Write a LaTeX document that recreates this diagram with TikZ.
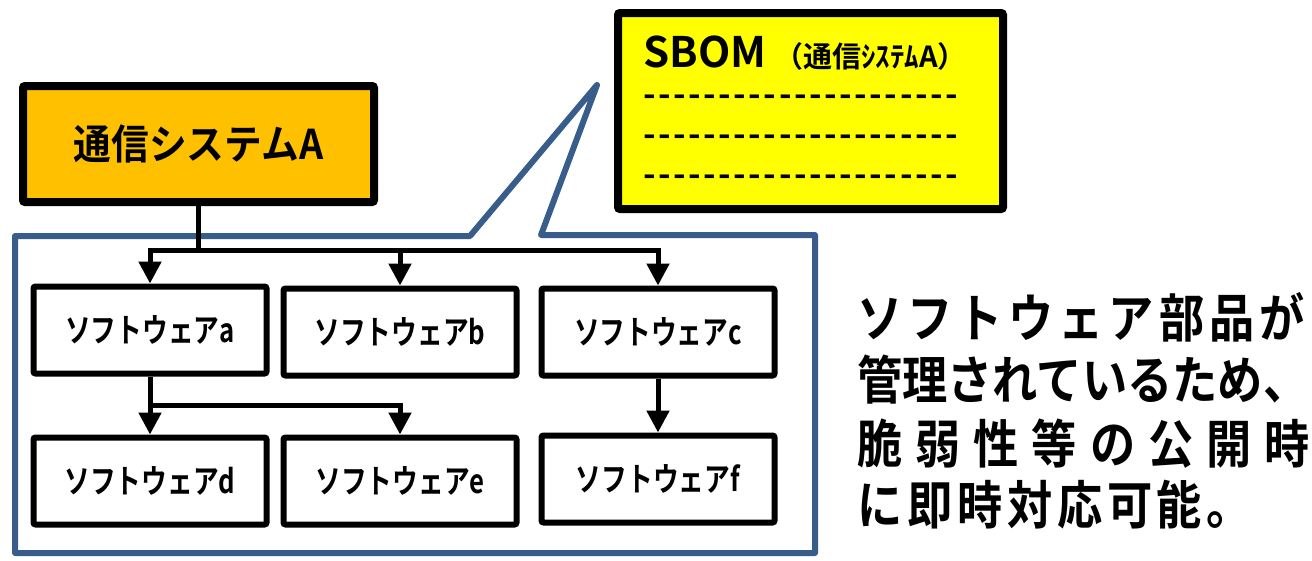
\documentclass[tikz,border=0pt]{standalone}
\usepackage{fontspec}
\newfontfamily\jpb{Noto Sans CJK JP Bold}
\newfontfamily\jpnarrow{Noto Sans CJK JP Bold}[FakeStretch=0.78]
\newfontfamily\jpsys{Noto Sans CJK JP Bold}[FakeStretch=0.92]
\newfontfamily\jptall{Noto Sans CJK JP Bold}[FakeStretch=0.87]
\usetikzlibrary{arrows.meta}
\definecolor{calloutblue}{RGB}{56, 93, 138}
\definecolor{sysorange}{RGB}{255, 192, 0}
\definecolor{sbomyellow}{RGB}{255, 255, 0}
\newcommand{\dashrow}{\makebox[315pt][s]{-\hfil-\hfil-\hfil-\hfil-\hfil-\hfil-\hfil-\hfil-\hfil-\hfil-\hfil-\hfil-\hfil-\hfil-\hfil-\hfil-\hfil-\hfil-\hfil-\hfil-}}

\begin{document}
\begin{tikzpicture}[x=1pt, y=-1pt, >={Triangle[length=22pt, width=22pt]},
  swbox/.style={draw, line width=6pt, fill=white, rounded corners=2pt, inner sep=0pt,
    minimum width=233pt, minimum height=87pt, font=\jpnarrow\fontsize{33}{36}\selectfont},
  arr/.style={->, line width=5pt},
  callout/.style={draw=calloutblue, line width=6pt, line join=round}]
  \useasboundingbox (0,0) rectangle (1312,560);

  % balloon round the parts tree
  \draw[callout] (15,236) -- (470,236) -- (597,85) -- (541,235) -- (815,235)
    -- (815,553) -- (15,553) -- cycle;

  % the system
  \node[draw, line width=8pt, fill=sysorange, rounded corners=2pt, inner sep=0pt,
    minimum width=351pt, minimum height=116pt, font=\jpsys\fontsize{41}{46}\selectfont]
    (sys) at (198.5,144) {通信システムA};

  % SBOM sheet
  \node[draw, line width=8pt, fill=sbomyellow, rounded corners=2pt,
    minimum width=385pt, minimum height=196pt] (sbom) at (810.5,111) {};
  \node[anchor=base west, inner sep=0pt] (sbomtitle) at (643,67)
    {\jpb\fontsize{42}{44}\selectfont SBOM\hspace{8pt}\fontsize{29}{30}\selectfont （通信ｼｽﾃﾑA）};
  \node[anchor=base, inner sep=0pt, font=\jpb\fontsize{34}{36}\selectfont] (row1) at (800.5,106) {\dashrow};
  \node[anchor=base, inner sep=0pt, font=\jpb\fontsize{34}{36}\selectfont] (row2) at (800.5,146) {\dashrow};
  \node[anchor=base, inner sep=0pt, font=\jpb\fontsize{34}{36}\selectfont] (row3) at (800.5,186) {\dashrow};

  % software parts
  \node[swbox] (a) at (150,330) {ソフトウェアa};
  \node[swbox] (b) at (400,332) {ソフトウェアb};
  \node[swbox] (c) at (658,332) {ソフトウェアc};
  \node[swbox] (d) at (150,481) {ソフトウェアd};
  \node[swbox] (e) at (400,481) {ソフトウェアe};
  \node[swbox] (f) at (658,479) {ソフトウェアf};

  \coordinate (bus) at (198.5,250);
  \coordinate (split) at (150,405);
  \draw[line width=5pt] (sys) -- (bus);
  \draw[arr] (bus) -| (a);
  \draw[arr] (bus) -| (b);
  \draw[arr] (bus) -| (c);
  \draw[arr] (a) -- (d);
  \draw[arr] (split) -| (e);
  \draw[arr] (c) -- (f);

  % note on the right
  \node[anchor=west, inner sep=0pt, font=\jptall\fontsize{52}{56}\selectfont] (note1) at (857,317)
    {\makebox[448pt][s]{ソ\hfil フ\hfil ト\hfil ウ\hfil ェ\hfil ア\hfil 部\hfil 品\hfil が}};
  \node[anchor=west, inner sep=0pt, font=\jptall\fontsize{52}{56}\selectfont] (note2) at (857,380)
    {管理されているため、};
  \node[anchor=west, inner sep=0pt, font=\jptall\fontsize{52}{56}\selectfont] (note3) at (857,444)
    {\makebox[453pt][s]{脆\hfil 弱\hfil 性\hfil 等\hfil の\hfil 公\hfil 開\hfil 時}};
  \node[anchor=west, inner sep=0pt, font=\jptall\fontsize{52}{56}\selectfont] (note4) at (857,505)
    {\makebox[395pt][s]{に\hfil 即\hfil 時\hfil 対\hfil 応\hfil 可\hfil 能\hfil 。}};
\end{tikzpicture}
\end{document}
